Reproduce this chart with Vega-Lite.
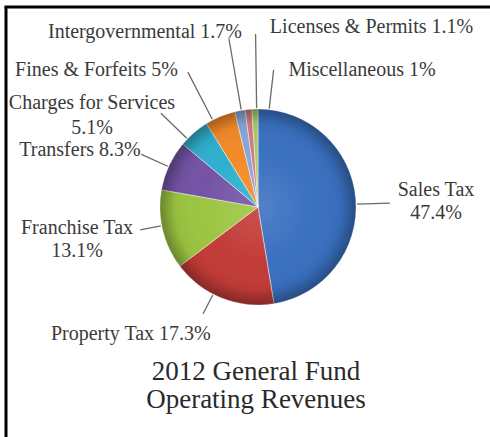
{
  "$schema": "https://vega.github.io/schema/vega-lite/v6.json",
  "width": 464,
  "height": 401,
  "autosize": "none",
  "padding": {"left": 26, "top": 6.5, "right": 0, "bottom": 29.5},
  "background": "#ffffff",
  "config": {"view": {"stroke": null}, "font": "Liberation Serif", "text": {"font": "Liberation Serif"}},
  "layer": [
    {
      "data": {"values": [{"k": 0}]},
      "mark": {"type": "point", "opacity": 0},
      "encoding": {
        "x": {"datum": 0, "type": "quantitative", "scale": {"domain": [0, 1], "range": [-22, 464]},
              "axis": {"orient": "top", "domain": true, "domainColor": "#000000", "domainWidth": 3, "ticks": false, "labels": false, "grid": false, "title": null}},
        "y": {"datum": 0, "type": "quantitative", "scale": {"domain": [0, 1], "range": [0, 431]},
              "axis": {"orient": "left", "offset": 20.5, "domain": true, "domainColor": "#000000", "domainWidth": 3, "ticks": false, "labels": false, "grid": false, "title": null}}
      }
    },
    {
      "data": {"values": [
        {"cat": "Sales Tax", "pct": 47.4, "ord": 1, "lab": ["Sales Tax", "47.4%"]},
        {"cat": "Property Tax", "pct": 17.3, "ord": 2, "lab": "Property Tax 17.3%"},
        {"cat": "Franchise Tax", "pct": 13.1, "ord": 3, "lab": ["Franchise Tax", "13.1%"]},
        {"cat": "Transfers", "pct": 8.3, "ord": 4, "lab": "Transfers 8.3%"},
        {"cat": "Charges for Services", "pct": 5.1, "ord": 5, "lab": ["Charges for Services", "5.1%"]},
        {"cat": "Fines & Forfeits", "pct": 5, "ord": 6, "lab": "Fines & Forfeits 5%"},
        {"cat": "Intergovernmental", "pct": 1.7, "ord": 7, "lab": "Intergovernmental 1.7%"},
        {"cat": "Licenses & Permits", "pct": 1.1, "ord": 8, "lab": "Licenses & Permits 1.1%"},
        {"cat": "Miscellaneous", "pct": 1, "ord": 9, "lab": "Miscellaneous 1%"}
      ]},
      "transform": [{"stack": "pct", "groupby": [], "sort": [{"field": "ord", "order": "ascending"}], "as": ["s0", "s1"]}],
      "layer": [
        {
          "mark": {"type": "arc", "outerRadius": 98, "stroke": "#ffffff", "strokeOpacity": 0.45, "strokeWidth": 1},
          "encoding": {
            "theta": {"field": "s0", "type": "quantitative", "scale": {"domain": [0, 100]}},
            "theta2": {"field": "s1"},
            "color": {"field": "cat", "type": "nominal", "legend": null,
              "scale": {"domain": ["Sales Tax", "Property Tax", "Franchise Tax", "Transfers", "Charges for Services", "Fines & Forfeits", "Intergovernmental", "Licenses & Permits", "Miscellaneous"],
                        "range": ["#3A70C0", "#C23B37", "#9CC541", "#7453A6", "#2FAFCE", "#F28A28", "#86A5DA", "#D37B7A", "#A6C96E"]}}
          }
        },
        {"transform": [{"filter": "datum.cat === 'Sales Tax'"}],
         "mark": {"type": "arc", "outerRadius": 132, "innerRadius": 99, "thetaOffset": 1.541, "theta2Offset": 1.541, "filled": false, "color": "#6a6a6a", "strokeWidth": 1.3},
         "encoding": {"theta": {"field": "s0", "type": "quantitative"}, "theta2": {"field": "s0"}}},
        {"transform": [{"filter": "datum.cat === 'Property Tax'"}],
         "mark": {"type": "arc", "outerRadius": 120, "innerRadius": 99, "thetaOffset": 0.6381, "theta2Offset": 0.6381, "filled": false, "color": "#6a6a6a", "strokeWidth": 1.3},
         "encoding": {"theta": {"field": "s0", "type": "quantitative"}, "theta2": {"field": "s0"}}},
        {"transform": [{"filter": "datum.cat === 'Franchise Tax'"}],
         "mark": {"type": "arc", "outerRadius": 120, "innerRadius": 99, "thetaOffset": 0.4552, "theta2Offset": 0.4552, "filled": false, "color": "#6a6a6a", "strokeWidth": 1.3},
         "encoding": {"theta": {"field": "s0", "type": "quantitative"}, "theta2": {"field": "s0"}}},
        {"transform": [{"filter": "datum.cat === 'Transfers'"}],
         "mark": {"type": "arc", "outerRadius": 128, "innerRadius": 99, "thetaOffset": 0.2482, "theta2Offset": 0.2482, "filled": false, "color": "#6a6a6a", "strokeWidth": 1.3},
         "encoding": {"theta": {"field": "s0", "type": "quantitative"}, "theta2": {"field": "s0"}}},
        {"transform": [{"filter": "datum.cat === 'Charges for Services'"}],
         "mark": {"type": "arc", "outerRadius": 135, "innerRadius": 99, "thetaOffset": 0.0705, "theta2Offset": 0.0705, "filled": false, "color": "#6a6a6a", "strokeWidth": 1.3},
         "encoding": {"theta": {"field": "s0", "type": "quantitative"}, "theta2": {"field": "s0"}}},
        {"transform": [{"filter": "datum.cat === 'Fines & Forfeits'"}],
         "mark": {"type": "arc", "outerRadius": 152, "innerRadius": 99, "thetaOffset": 0.073, "theta2Offset": 0.073, "filled": false, "color": "#6a6a6a", "strokeWidth": 1.3},
         "encoding": {"theta": {"field": "s0", "type": "quantitative"}, "theta2": {"field": "s0"}}},
        {"transform": [{"filter": "datum.cat === 'Intergovernmental'"}],
         "mark": {"type": "arc", "outerRadius": 171, "innerRadius": 99, "thetaOffset": 0.0677, "theta2Offset": 0.0677, "filled": false, "color": "#6a6a6a", "strokeWidth": 1.3},
         "encoding": {"theta": {"field": "s0", "type": "quantitative"}, "theta2": {"field": "s0"}}},
        {"transform": [{"filter": "datum.cat === 'Licenses & Permits'"}],
         "mark": {"type": "arc", "outerRadius": 173, "innerRadius": 99, "thetaOffset": 0.118, "theta2Offset": 0.118, "filled": false, "color": "#6a6a6a", "strokeWidth": 1.3},
         "encoding": {"theta": {"field": "s0", "type": "quantitative"}, "theta2": {"field": "s0"}}},
        {"transform": [{"filter": "datum.cat === 'Miscellaneous'"}],
         "mark": {"type": "arc", "outerRadius": 138, "innerRadius": 99, "thetaOffset": 0.1763, "theta2Offset": 0.1763, "filled": false, "color": "#6a6a6a", "strokeWidth": 1.3},
         "encoding": {"theta": {"field": "s0", "type": "quantitative"}, "theta2": {"field": "s0"}}},
        {"transform": [{"filter": "datum.cat === 'Sales Tax'"}],
         "mark": {"type": "text", "font": "Liberation Serif", "radius": 178.8, "thetaOffset": 1.4755, "align": "center", "baseline": "middle", "fontSize": 20, "lineHeight": 23, "color": "#3a3a3a"},
         "encoding": {"theta": {"field": "s0", "type": "quantitative"}, "text": {"field": "lab", "type": "nominal"}}},
        {"transform": [{"filter": "datum.cat === 'Property Tax'"}],
         "mark": {"type": "text", "font": "Liberation Serif", "radius": 179.5, "thetaOffset": 0.9507, "align": "center", "baseline": "middle", "fontSize": 20, "lineHeight": 23, "color": "#3a3a3a"},
         "encoding": {"theta": {"field": "s0", "type": "quantitative"}, "text": {"field": "lab", "type": "nominal"}}},
        {"transform": [{"filter": "datum.cat === 'Franchise Tax'"}],
         "mark": {"type": "text", "font": "Liberation Serif", "radius": 182.2, "thetaOffset": 0.5316, "align": "center", "baseline": "middle", "fontSize": 20, "lineHeight": 23, "color": "#3a3a3a"},
         "encoding": {"theta": {"field": "s0", "type": "quantitative"}, "text": {"field": "lab", "type": "nominal"}}},
        {"transform": [{"filter": "datum.cat === 'Transfers'"}],
         "mark": {"type": "text", "font": "Liberation Serif", "radius": 186.9, "thetaOffset": 0.134, "align": "center", "baseline": "middle", "fontSize": 20, "lineHeight": 23, "color": "#3a3a3a"},
         "encoding": {"theta": {"field": "s0", "type": "quantitative"}, "text": {"field": "lab", "type": "nominal"}}},
        {"transform": [{"filter": "datum.cat === 'Charges for Services'"}],
         "mark": {"type": "text", "font": "Liberation Serif", "radius": 195.9, "thetaOffset": -0.1377, "align": "center", "baseline": "middle", "fontSize": 20, "lineHeight": 25, "color": "#3a3a3a"},
         "encoding": {"theta": {"field": "s0", "type": "quantitative"}, "text": {"field": "lab", "type": "nominal"}}},
        {"transform": [{"filter": "datum.cat === 'Fines & Forfeits'"}],
         "mark": {"type": "text", "font": "Liberation Serif", "radius": 211.8, "thetaOffset": -0.3143, "align": "center", "baseline": "middle", "fontSize": 20, "lineHeight": 23, "color": "#3a3a3a"},
         "encoding": {"theta": {"field": "s0", "type": "quantitative"}, "text": {"field": "lab", "type": "nominal"}}},
        {"transform": [{"filter": "datum.cat === 'Intergovernmental'"}],
         "mark": {"type": "text", "font": "Liberation Serif", "radius": 208.3, "thetaOffset": -0.3348, "align": "center", "baseline": "middle", "fontSize": 20, "lineHeight": 23, "color": "#3a3a3a"},
         "encoding": {"theta": {"field": "s0", "type": "quantitative"}, "text": {"field": "lab", "type": "nominal"}}},
        {"transform": [{"filter": "datum.cat === 'Licenses & Permits'"}],
         "mark": {"type": "text", "font": "Liberation Serif", "radius": 212.8, "thetaOffset": 0.6946, "align": "center", "baseline": "middle", "fontSize": 20, "lineHeight": 23, "color": "#3a3a3a"},
         "encoding": {"theta": {"field": "s0", "type": "quantitative"}, "text": {"field": "lab", "type": "nominal"}}},
        {"transform": [{"filter": "datum.cat === 'Miscellaneous'"}],
         "mark": {"type": "text", "font": "Liberation Serif", "radius": 172, "thetaOffset": 0.7121, "align": "center", "baseline": "middle", "fontSize": 20, "lineHeight": 23, "color": "#3a3a3a"},
         "encoding": {"theta": {"field": "s0", "type": "quantitative"}, "text": {"field": "lab", "type": "nominal"}}}
      ]
    },
    {
      "data": {"values": [{"k": 0}]},
      "mark": {"type": "arc", "theta": 0, "theta2": 6.2832, "outerRadius": 98, "stroke": null,
        "fill": {"gradient": "radial", "x1": 0.5, "y1": 0.5, "r1": 0, "x2": 0.5, "y2": 0.5, "r2": 0.5,
          "stops": [
            {"offset": 0, "color": "rgba(255,255,255,0.12)"},
            {"offset": 0.6, "color": "rgba(255,255,255,0)"},
            {"offset": 0.85, "color": "rgba(0,0,0,0.05)"},
            {"offset": 1, "color": "rgba(0,0,0,0.32)"}
          ]}},
      "encoding": {}
    },
    {
      "data": {"values": [{"k": 0}]},
      "mark": {"type": "text", "font": "Liberation Serif", "text": ["2012 General Fund", "Operating Revenues"], "align": "center", "baseline": "middle",
               "fontSize": 27, "lineHeight": 28, "dx": -2, "dy": 165, "color": "#2a2a2a"},
      "encoding": {}
    }
  ]
}
